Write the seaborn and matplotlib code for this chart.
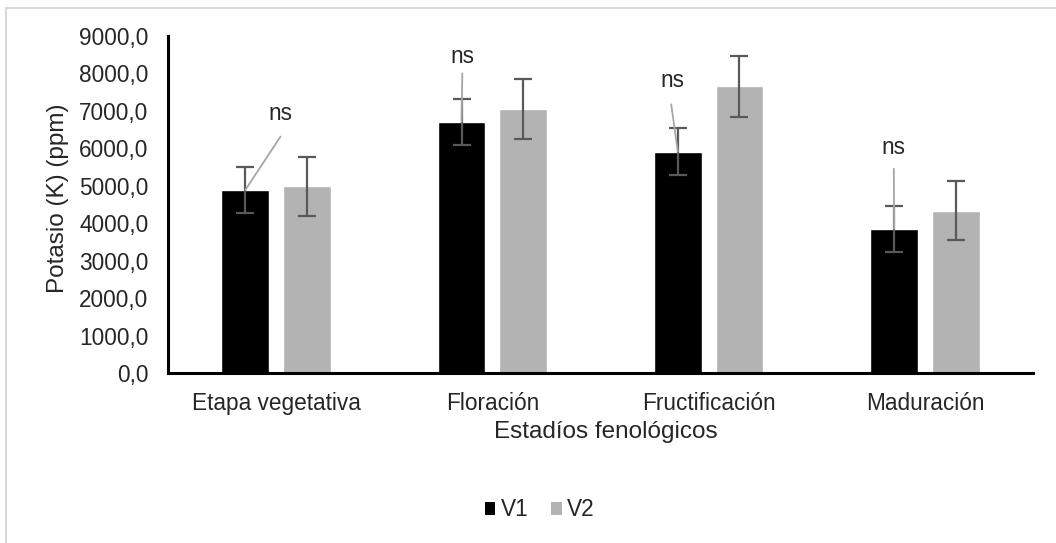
import matplotlib
matplotlib.use("Agg")
import matplotlib.pyplot as plt
from matplotlib.patches import Rectangle, Patch
from matplotlib.ticker import FuncFormatter, MultipleLocator
import pandas as pd
import seaborn as sns

# Potassium content by phenological stage for two varieties
estadios = ["Etapa vegetativa", "Floración", "Fructificación", "Maduración"]
variedades = ["V1", "V2"]
k_v1 = [4890, 6710, 5910, 3850]
k_v2 = [4990, 7050, 7660, 4330]
err_v1 = [620, 620, 630, 620]
err_v2 = [790, 800, 815, 790]
significancia = ["ns", "ns", "ns", "ns"]

# label placement above the V1 bars (offset points): text centre and leader-line start
txt_off = [(25.6, 55.2), (0.5, 47.1), (-4.1, 51.6), (-0.5, 58.3)]
line_off = [(25.3, 38.4), (0.5, 34.8), (-4.8, 34.1), (-0.2, 43.2)]

df = pd.DataFrame({
    "Estadío": estadios * 2,
    "Variedad": ["V1"] * len(estadios) + ["V2"] * len(estadios),
    "K": k_v1 + k_v2,
})
errores = {"V1": err_v1, "V2": err_v2}

sns.set_style("white")
plt.rcParams["font.family"] = ["Liberation Sans", "DejaVu Sans"]
plt.rcParams["font.size"] = 16

colores = {"V1": "#000000", "V2": "#b3b3b3"}
texto = "#262626"

fig = plt.figure(figsize=(10.56, 5.43), dpi=100)
ax = fig.add_axes([168 / 1056, 1 - 373 / 543, (1033 - 168) / 1056, (373 - 36) / 543])

sns.barplot(data=df, x="Estadío", y="K", hue="Variedad", order=estadios,
            hue_order=variedades, palette=colores, width=0.569, gap=0.224,
            errorbar=None, saturation=1, ax=ax)

# error bars centred on each bar
for cont, var in zip(ax.containers, variedades):
    xs = [p.get_x() + p.get_width() / 2 for p in cont.patches]
    hs = [p.get_height() for p in cont.patches]
    ax.errorbar(xs, hs, yerr=errores[var], fmt="none", ecolor="#595959",
                elinewidth=1.6, capsize=6.5, capthick=1.6, zorder=3)

# significance labels with leader lines on the V1 bars
for p, lab, (tx, ty), (lx, ly) in zip(ax.containers[0].patches, significancia, txt_off, line_off):
    bx = p.get_x() + p.get_width() / 2
    by = p.get_height()
    ax.annotate("", xy=(bx, by), xytext=(lx, ly), textcoords="offset points",
                arrowprops=dict(arrowstyle="-", color="#a6a6a6", lw=1.3,
                                shrinkA=0, shrinkB=0), zorder=4)
    ax.annotate(lab, xy=(bx, by), xytext=(tx, ty), textcoords="offset points",
                ha="center", va="center", fontsize=16.3, color=texto, zorder=5)

ax.set_ylim(0, 9000)
ax.set_xlim(-0.5, 3.5)
ax.yaxis.set_major_locator(MultipleLocator(1000))
ax.yaxis.set_major_formatter(FuncFormatter(lambda v, _: f"{v:.1f}".replace(".", ",")))
ax.tick_params(axis="both", length=0, labelsize=16.3, colors=texto)
ax.tick_params(axis="y", pad=14)
ax.tick_params(axis="x", pad=14)

for s in ("top", "right"):
    ax.spines[s].set_visible(False)
for s in ("left", "bottom"):
    ax.spines[s].set_linewidth(2.2)
    ax.spines[s].set_color("black")

ax.set_xlabel("Estadíos fenológicos", fontsize=17.5, color=texto)
ax.set_ylabel("Potasio (K) (ppm)", fontsize=17.5, color=texto)
ax.xaxis.set_label_coords(0.506, -0.142)
ax.yaxis.set_label_coords(-0.1145, 0.519)

if ax.get_legend() is not None:
    ax.get_legend().remove()
handles = [Patch(facecolor=colores[v], edgecolor="none") for v in variedades]
fig.legend(handles, variedades, loc="center", bbox_to_anchor=(540 / 1056, 1 - 510 / 543),
           ncol=2, frameon=False, fontsize=16.3, handlelength=0.45, handleheight=0.45,
           handletextpad=0.25, columnspacing=1.0, labelcolor=texto)

# chart-area border
fig.patches.append(Rectangle((6 / 1056, -0.2), 1.2, 1.2 - 8 / 543,
                             transform=fig.transFigure, fill=False,
                             edgecolor="#d9d9d9", lw=1.5))

fig.savefig("out.png", dpi=100)
